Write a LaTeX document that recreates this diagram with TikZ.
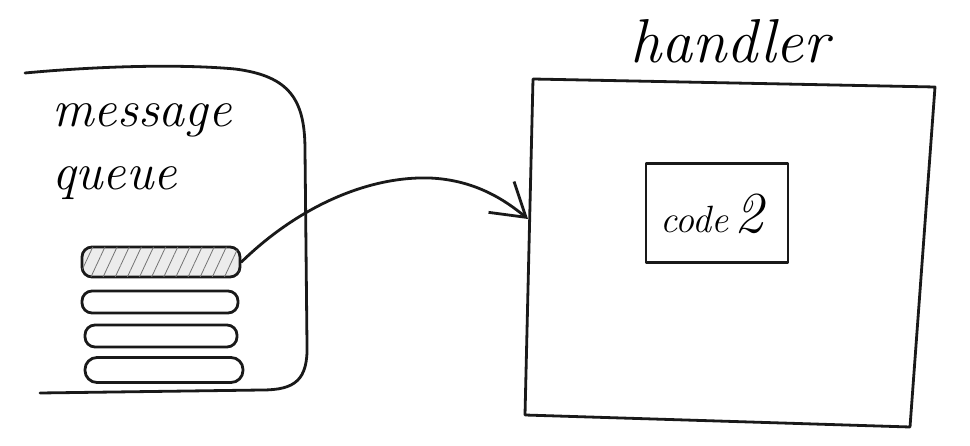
\documentclass[tikz,border=0pt]{standalone}
\usetikzlibrary{arrows.meta,patterns.meta}
\begin{document}
\begin{tikzpicture}[x=1pt,y=-1pt,
  ink/.style={draw=black!90,line width=2.8pt,line cap=round,line join=round},
  pill/.style={ink,rounded corners=10pt,minimum width=#1,inner sep=0pt},
  hand/.style={font=\itshape,inner sep=0pt,anchor=base west},
  arr/.style={ink,-{Straight Barb[length=32pt,width=40pt,line width=2.8pt]}}]
\useasboundingbox (0,0) rectangle (970,446);
% message queue container
\draw[ink] (25,73) .. controls (100,66) and (180,64) .. (235,69)
  .. controls (290,76) and (305,100) .. (305,150) -- (307,345)
  .. controls (308,380) and (295,390) .. (262,390) -- (40,393);
\node[hand,font=\fontsize{52}{52}\selectfont\itshape] (msg) at (52,127) {message};
\node[hand,font=\fontsize{52}{52}\selectfont\itshape] (que) at (52,190) {queue};
% queue items
\node[pill=158pt,minimum height=30pt,fill=gray!15,
  postaction={pattern={Lines[angle=65,distance=11pt,line width=0.8pt]},pattern color=black!55}] (q1) at (161,262) {};
\node[pill=156pt,minimum height=22pt] (q2) at (160,302) {};
\node[pill=152pt,minimum height=22pt] (q3) at (161,336) {};
\node[pill=158pt,minimum height=25pt,rounded corners=12pt] (q4) at (164,370) {};
% handler
\node[hand,font=\fontsize{62}{62}\selectfont\itshape] (hl) at (630,63) {handler};
\draw[ink] (533,79) -- (935,87) -- (910,427) -- (525,415) -- cycle;
\coordinate (hin) at (528,219);
\node[ink,minimum width=142pt,minimum height=99pt,inner sep=0pt] (code) at (717,213) {};
\node[inner sep=0pt] (codet) at (712,214) {\fontsize{38}{38}\selectfont\itshape code\,\fontsize{58}{58}\selectfont 2};
% arrow
\draw[arr] (q1.east) .. controls (300,205) and (370,176) .. (430,178)
  .. controls (475,180) and (505,200) .. (hin);
\end{tikzpicture}
\end{document}
